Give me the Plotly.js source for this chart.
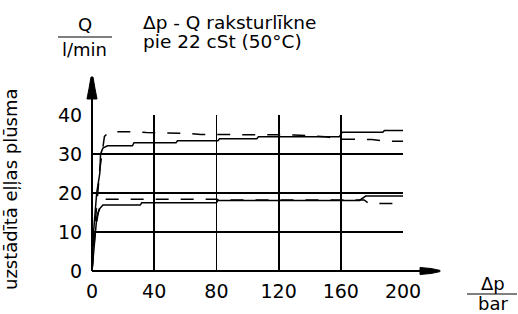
<!DOCTYPE html>
<html>
<head>
<meta charset="utf-8">
<script src="https://cdn.plot.ly/plotly-3.0.1.min.js"></script>
<style>html,body{margin:0;padding:0;background:#fff;}#chart{width:518px;height:314px;}</style>
</head>
<body>
<div id="chart"></div>
<script>
// Values
var upperSolidX = [0, 1, 3, 5, 5.5, 7, 10, 26, 27, 54, 55, 81, 82, 106, 107, 159, 161, 187, 188, 200];
var upperSolidY = [0, 10, 20, 25, 30, 31.5, 32.1, 32.1, 32.9, 32.9, 33.4, 33.4, 33.9, 33.9, 34.4, 34.4, 35.6, 35.6, 36.0, 36.0];

var upperDashX = [0, 2, 5, 7, 8, 11, 25, 35, 60, 70, 100, 130, 150, 160, 180, 190, 200];
var upperDashY = [0, 12, 26, 31, 34.5, 35.7, 35.7, 35.5, 35.3, 35.0, 35.0, 34.9, 34.4, 33.8, 33.7, 33.3, 33.3];

var lowerSolidX = [0, 1, 2, 3, 4, 5, 7, 31, 32, 80, 81, 172, 176, 200];
var lowerSolidY = [0, 5, 10, 13.5, 15, 16, 16.9, 16.9, 17.5, 17.5, 18.1, 18.1, 19.2, 19.2];

var lowerDashX = [0, 2, 4, 6, 8, 80, 82, 175, 178, 200];
var lowerDashY = [0, 10, 15, 17.5, 18.4, 18.4, 18.2, 18.2, 17.3, 17.3];

var xTickVals = [0, 40, 80, 120, 160, 200];
var xTickText = ['0', '40', '80', '120', '160', '200'];
var yTickVals = [0, 10, 20, 30, 40];
var yTickText = ['0', '10', '20', '30', '40'];

var titleLine1 = 'Δp - Q raksturlīkne';
var titleLine2 = 'pie 22 cSt (50°C)';
var yUnitTop = 'Q';
var yUnitBottom = 'l/min';
var xUnitTop = 'Δp';
var xUnitBottom = 'bar';
var yAxisTitle = 'uzstādītā eļļas plūsma';

var FONT = 'DejaVu Sans, sans-serif';
var DASH = '13px,12px';
var LW = 1.5;

var traces = [
  {x: upperSolidX, y: upperSolidY, mode: 'lines', line: {color: '#000', width: LW}},
  {x: upperDashX, y: upperDashY, mode: 'lines', line: {color: '#000', width: LW, dash: DASH}},
  {x: lowerSolidX, y: lowerSolidY, mode: 'lines', line: {color: '#000', width: LW}},
  {x: lowerDashX, y: lowerDashY, mode: 'lines', line: {color: '#000', width: LW, dash: DASH}}
];

var layout = {
  width: 518, height: 314,
  margin: {l: 92, r: 115, t: 115, b: 43, pad: 0},
  paper_bgcolor: '#fff', plot_bgcolor: '#fff',
  showlegend: false,
  xaxis: {
    range: [0, 200], tickvals: xTickVals, ticktext: xTickText,
    showgrid: true, gridcolor: '#000', gridwidth: 1.8,
    zeroline: false, showline: false,
    ticks: 'outside', ticklen: 3, tickcolor: 'rgba(0,0,0,0)',
    tickfont: {family: FONT, size: 19, color: '#000'}, fixedrange: true
  },
  yaxis: {
    range: [0, 40], tickvals: yTickVals, ticktext: yTickText,
    showgrid: true, gridcolor: '#000', gridwidth: 1.8,
    zeroline: false, showline: false,
    ticks: 'outside', ticklen: 5, tickcolor: 'rgba(0,0,0,0)',
    tickfont: {family: FONT, size: 19, color: '#000'}, fixedrange: true
  },
  shapes: [
    {type: 'line', xref: 'paper', yref: 'paper', x0: 0, y0: 0, x1: 0, y1: 1.20, line: {color: '#000', width: 2}},
    {type: 'path', xref: 'paper', yref: 'paper', path: 'M -0.0161 1.1026 L 0.0161 1.1026 L 0.0096 1.17 L 0.0032 1.2436 L -0.0032 1.2436 L -0.0096 1.17 Z', fillcolor: '#000', line: {color: '#000', width: 1}},
    {type: 'line', xref: 'paper', yref: 'paper', x0: 0, y0: 0, x1: 1.08, y1: 0, line: {color: '#000', width: 2}},
    {type: 'path', xref: 'paper', yref: 'paper', path: 'M 1.0547 0.0224 L 1.0547 -0.0224 L 1.09 -0.016 L 1.119 -0.004 L 1.119 0.004 L 1.09 0.016 Z', fillcolor: '#000', line: {color: '#000', width: 1}},
    {type: 'line', xref: 'paper', yref: 'paper', x0: -0.1093, y0: 1.5, x1: 0.0643, y1: 1.5, line: {color: '#000', width: 1.2}},
    {type: 'line', xref: 'paper', yref: 'paper', x0: 1.2058, y0: -0.1474, x1: 1.3666, y1: -0.1474, line: {color: '#000', width: 1.2}}
  ],
  annotations: [
    {xref: 'paper', yref: 'paper', x: 0.1576, y: 1.596, xanchor: 'left', yanchor: 'middle', showarrow: false, text: titleLine1, font: {family: FONT, size: 18.5, color: '#000'}},
    {xref: 'paper', yref: 'paper', x: 0.1576, y: 1.474, xanchor: 'left', yanchor: 'middle', showarrow: false, text: titleLine2, font: {family: FONT, size: 18.5, color: '#000'}},
    {xref: 'paper', yref: 'paper', x: -0.0225, y: 1.583, xanchor: 'center', yanchor: 'middle', showarrow: false, text: yUnitTop, font: {family: FONT, size: 18, color: '#000'}},
    {xref: 'paper', yref: 'paper', x: -0.0257, y: 1.423, xanchor: 'center', yanchor: 'middle', showarrow: false, text: yUnitBottom, font: {family: FONT, size: 18, color: '#000'}},
    {xref: 'paper', yref: 'paper', x: 1.289, y: -0.077, xanchor: 'center', yanchor: 'middle', showarrow: false, text: xUnitTop, font: {family: FONT, size: 18, color: '#000'}},
    {xref: 'paper', yref: 'paper', x: 1.289, y: -0.2115, xanchor: 'center', yanchor: 'middle', showarrow: false, text: xUnitBottom, font: {family: FONT, size: 18, color: '#000'}},
    {xref: 'paper', yref: 'paper', x: -0.2636, y: 0.5256, xanchor: 'center', yanchor: 'middle', showarrow: false, textangle: -90, text: yAxisTitle, font: {family: FONT, size: 18, color: '#000'}}
  ]
};

Plotly.newPlot('chart', traces, layout, {staticPlot: true, displayModeBar: false});
</script>
</body>
</html>
